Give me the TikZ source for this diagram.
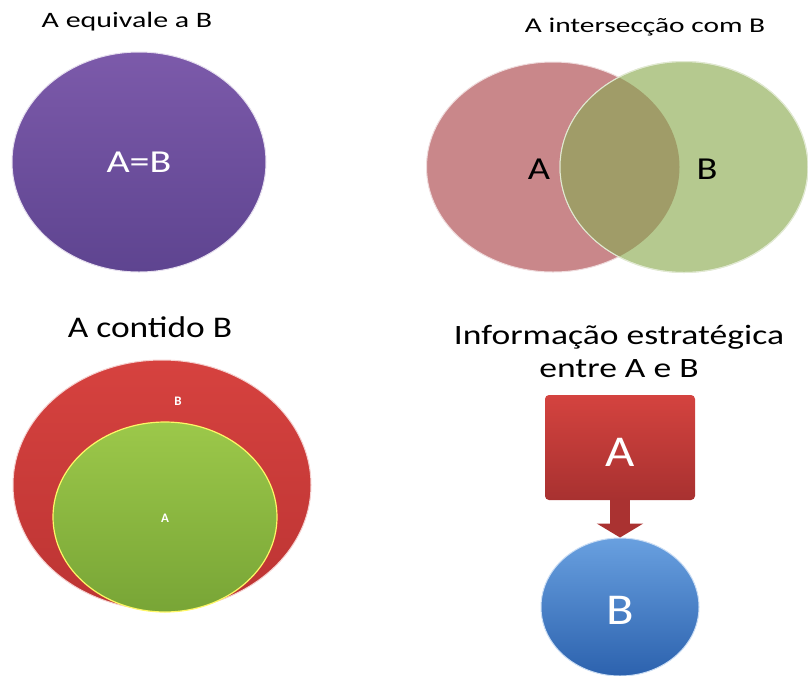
\documentclass[tikz,border=0pt]{standalone}
\usepackage{fontspec}
\setmainfont{Carlito}
\usetikzlibrary{shapes.geometric,arrows.meta}
\newcommand{\stretchtxt}[2]{\scalebox{#1}[1]{#2}}
\definecolor{purpT}{HTML}{7C5AAA}
\definecolor{purpB}{HTML}{5E4490}
\definecolor{pinkA}{HTML}{C9878A}
\definecolor{greenB}{HTML}{B5C98F}
\definecolor{olive}{HTML}{A09C68}
\definecolor{redT}{HTML}{D6423F}
\definecolor{redB}{HTML}{BC3433}
\definecolor{grT}{HTML}{9CC84A}
\definecolor{grB}{HTML}{78A536}
\definecolor{boxT}{HTML}{D4433F}
\definecolor{boxB}{HTML}{A83130}
\definecolor{bluT}{HTML}{4E8FDA}
\definecolor{bluB}{HTML}{2C62AE}
\tikzset{
  blob/.style={ellipse, inner sep=0pt},
  title/.style={inner sep=0pt, text=black},
  wlabel/.style={inner sep=0pt, text=white},
}
\begin{document}
\begin{tikzpicture}[x=1pt,y=-1pt]
\useasboundingbox (0,0) rectangle (808,675);
% --- top left
\node[title, font=\fontsize{22}{24}\selectfont] (t1) at (127,22) {\stretchtxt{1.36}{A equivale a B}};
\node[blob, minimum width=254pt, minimum height=220pt, top color=purpT, bottom color=purpB, draw=white!80!purpT, line width=1pt] (eq) at (139,162) {};
\node[wlabel, font=\fontsize{32}{34}\selectfont] (eqt) at (eq.center) {\stretchtxt{1.25}{A=B}};
% --- top right
\node[title, font=\fontsize{21}{23}\selectfont] (t2) at (645,27) {\stretchtxt{1.4}{A intersecção com B}};
\node[blob, minimum width=253pt, minimum height=210pt, fill=pinkA, draw=white!70!pinkA, line width=1pt] (ia) at (553,167) {};
\node[blob, minimum width=248pt, minimum height=211pt, fill=greenB, draw=white!60!greenB, line width=1pt] (ib) at (684,167) {};
\begin{scope}
  \clip (553,167) ellipse [x radius=126.5pt, y radius=105pt];
  \fill[olive] (684,167) ellipse [x radius=124pt, y radius=105.5pt];
\end{scope}
\draw[white!60!greenB, line width=1pt] (684,167) ellipse [x radius=124pt, y radius=105.5pt];
\node[inner sep=0pt, font=\fontsize{32}{34}\selectfont] (la) at (539,169) {\stretchtxt{1.2}{A}};
\node[inner sep=0pt, font=\fontsize{32}{34}\selectfont] (lb) at (707,169) {\stretchtxt{1.2}{B}};
% --- bottom left
\node[title, font=\fontsize{30}{32}\selectfont] (t3) at (150,327) {\stretchtxt{1.18}{A contido B}};
\node[blob, minimum width=298pt, minimum height=250pt, top color=redT, bottom color=redB, draw=white!75!redT, line width=1pt] (cb) at (162,485) {};
\node[blob, minimum width=224pt, minimum height=190pt, top color=grT, bottom color=grB, draw=yellow!60!white, line width=1.2pt] (ca) at (165,517) {};
\node[wlabel, font=\fontsize{13}{14}\selectfont\bfseries] (cbl) at (178,401) {B};
\node[wlabel, font=\fontsize{13}{14}\selectfont\bfseries] (cal) at (165,518) {A};
% --- bottom right
\node[title, font=\fontsize{28}{30}\selectfont, align=center] (t4) at (619,351) {\stretchtxt{1.27}{Informação estratégica}\\[3pt]\stretchtxt{1.27}{entre A e B}};
\node[rectangle, rounded corners=4pt, minimum width=150pt, minimum height=105pt, top color=boxT, bottom color=boxB, inner sep=0pt] (ba) at (620,447.5) {};
\node[wlabel, font=\fontsize{44}{46}\selectfont] (bat) at (620,452) {\stretchtxt{1.15}{A}};
\node[blob, minimum width=158pt, minimum height=138pt, top color=bluT!85!white, bottom color=bluB, draw=white!70!bluT, line width=1pt] (bb) at (620,607) {};
\node[wlabel, font=\fontsize{44}{46}\selectfont] (bbt) at (620,610) {\stretchtxt{1.15}{B}};
\draw[-{Triangle[width=46pt,length=14pt]}, line width=20pt, color=boxB!95!boxT] (ba.south) -- (bb.north);
\end{tikzpicture}
\end{document}
